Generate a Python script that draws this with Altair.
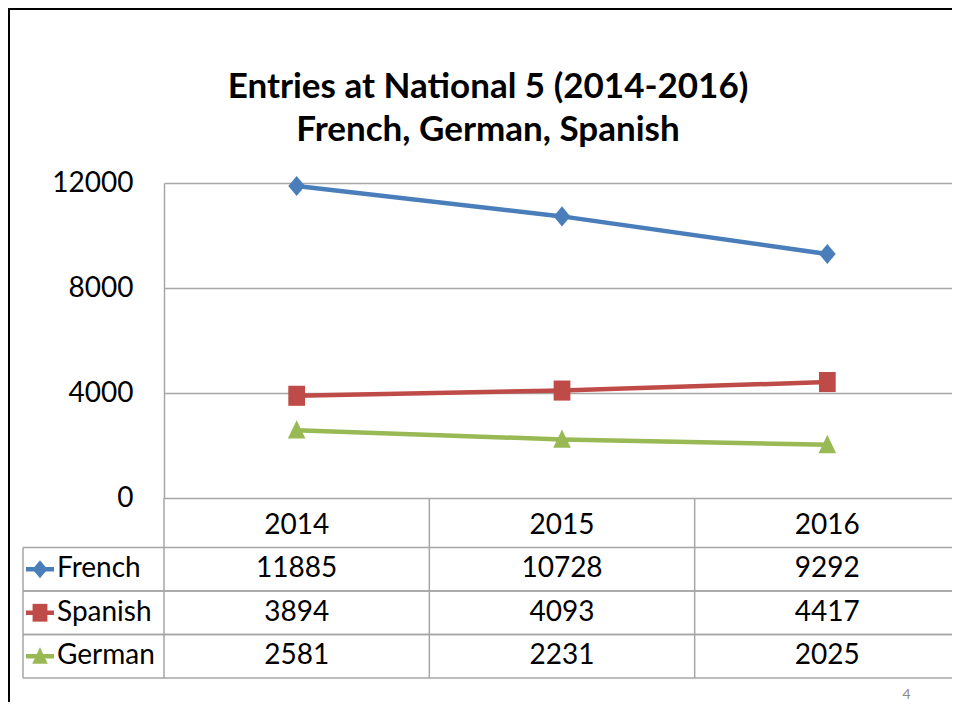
import altair as alt
import pandas as pd

# ---- data ----
YEARS = ["2014", "2015", "2016"]
SERIES = ["French", "Spanish", "German"]
FRENCH = [11885, 10728, 9292]
SPANISH = [3894, 4093, 4417]
GERMAN = [2581, 2231, 2025]
Y_TICKS = [0, 4000, 8000, 12000]
TITLE_LINES = ["Entries at National 5 (2014-2016)", "French, German, Spanish"]
PAGE_NO = "4"

# ---- styles ----
COLORS = ["#4a7ebb", "#be4b48", "#98b954"]
SHAPES = ["M0,-1.2L1,0L0,1.2L-1,0Z", "M-1,-1.2H1V1.2H-1Z", "M0,-1.2L1.05,1L-1.05,1Z"]
FONT = "Lato"
GRID = "#a6a6a6"
W, H = 788, 315          # visible plot area (page is 960 wide)
X_RANGE = 796            # full extent of the three year bands (runs off the page edge)
PAD = {"left": 156, "top": 175, "right": 0, "bottom": 204}

rows = []
for s, vals in zip(SERIES, [FRENCH, SPANISH, GERMAN]):
    for y, v in zip(YEARS, vals):
        rows.append({"series": s, "year": y, "value": v})
df = pd.DataFrame(rows)
series_df = pd.DataFrame({"series": SERIES})
years_df = pd.DataFrame({"year": YEARS})
one = alt.Data(values=[{}])

x_scale = alt.Scale(type="band", domain=YEARS, range=[0, X_RANGE], paddingInner=0, paddingOuter=0)
x_axis = alt.Axis(title=None, domain=False, ticks=False, grid=False, labelFont=FONT,
                  labelFontSize=28, labelColor="#000000", labelPadding=13, labelAngle=0)


def X(**kw):
    return alt.X("year:O", scale=x_scale, axis=x_axis, **kw)


color = alt.Color("series:N", scale=alt.Scale(domain=SERIES, range=COLORS), legend=None)
shape = alt.Shape("series:N", scale=alt.Scale(domain=SERIES, range=SHAPES), legend=None)

y_enc = alt.Y("value:Q", scale=alt.Scale(domain=[0, 12000], nice=False),
              axis=alt.Axis(values=Y_TICKS, format="d", title=None, grid=True, gridColor=GRID,
                            gridWidth=1.5, domainColor=GRID, domainWidth=1.5, ticks=False,
                            labelFont=FONT, labelFontSize=28, labelColor="#000000",
                            labelPadding=31))

lines = alt.Chart(df).mark_line(strokeWidth=4.5).encode(
    x=X(bandPosition=0.5), y=y_enc, color=color)
points = alt.Chart(df).mark_point(filled=True, size=280, opacity=1).encode(
    x=X(bandPosition=0.5), y=y_enc, color=color, shape=shape)
plot_group = alt.layer(lines, points)

# ---- data table below the plot ----
row_scale = alt.Scale(type="band", domain=SERIES, range=[364.5, 495], paddingInner=0, paddingOuter=0)


def RY(**kw):
    return alt.Y("series:N", scale=row_scale, axis=None, **kw)


h_top = alt.Chart(series_df).mark_rule(color=GRID, strokeWidth=1.5).encode(
    x=alt.value(-141), x2=alt.value(W + 5), y=RY(bandPosition=0))
h_bot = alt.Chart(series_df).mark_rule(color=GRID, strokeWidth=1.5).encode(
    x=alt.value(-141), x2=alt.value(W + 5), y=RY(bandPosition=1))
v_left = alt.Chart(one).mark_rule(color=GRID, strokeWidth=1.5).encode(
    x=alt.value(-141), y=alt.value(364.5), y2=alt.value(495))
v_cols = alt.Chart(years_df).mark_rule(color=GRID, strokeWidth=1.5).encode(
    x=X(bandPosition=0), y=alt.value(315), y2=alt.value(495))
cell_text = alt.Chart(df).mark_text(font=FONT, fontSize=28, align="center", baseline="middle",
                                    color="#000000").encode(
    x=X(bandPosition=0.5), y=RY(bandPosition=0.5), text=alt.Text("value:Q", format="d"))
leg_text = alt.Chart(series_df).mark_text(font=FONT, fontSize=28, align="left", baseline="middle",
                                          color="#000000").encode(
    x=alt.value(-107), y=RY(bandPosition=0.5), text="series:N")
leg_line = alt.Chart(series_df).mark_rule(strokeWidth=4.5).encode(
    x=alt.value(-138), x2=alt.value(-110), y=RY(bandPosition=0.5), color=color)
leg_pt = alt.Chart(series_df).mark_point(filled=True, size=220, opacity=1).encode(
    x=alt.value(-124), y=RY(bandPosition=0.5), color=color, shape=shape)
table_group = alt.layer(h_top, h_bot, v_left, v_cols, cell_text, leg_line, leg_pt, leg_text)

# ---- slide decorations ----
title = alt.Chart(one).mark_text(text=TITLE_LINES, font=FONT, fontSize=35, fontWeight="bold",
                                 align="center", baseline="alphabetic", lineHeight=43,
                                 color="#000000").encode(x=alt.value(324), y=alt.value(-85))
border_left = alt.Chart(one).mark_rule(color="#000000", strokeWidth=3, strokeCap="square").encode(
    x=alt.value(-155.5), y=alt.value(-174.5), y2=alt.value(H + PAD["bottom"] + 5))
border_top = alt.Chart(one).mark_rule(color="#000000", strokeWidth=3, strokeCap="square").encode(
    x=alt.value(-155.5), x2=alt.value(W + 5), y=alt.value(-174.5))
page_no = alt.Chart(one).mark_text(text=PAGE_NO, font=FONT, fontSize=14, color="#8c8c8c",
                                   align="center", baseline="middle").encode(
    x=alt.value(742.5), y=alt.value(512))

chart = alt.layer(plot_group, table_group, title, border_left, border_top, page_no).resolve_scale(
    y="independent"
).properties(
    width=W, height=H, padding=PAD, background="white",
    autosize=alt.AutoSizeParams(type="none"),
).configure_view(stroke=None)

chart.save("out.html", embed_options={"renderer": "svg", "actions": False})
